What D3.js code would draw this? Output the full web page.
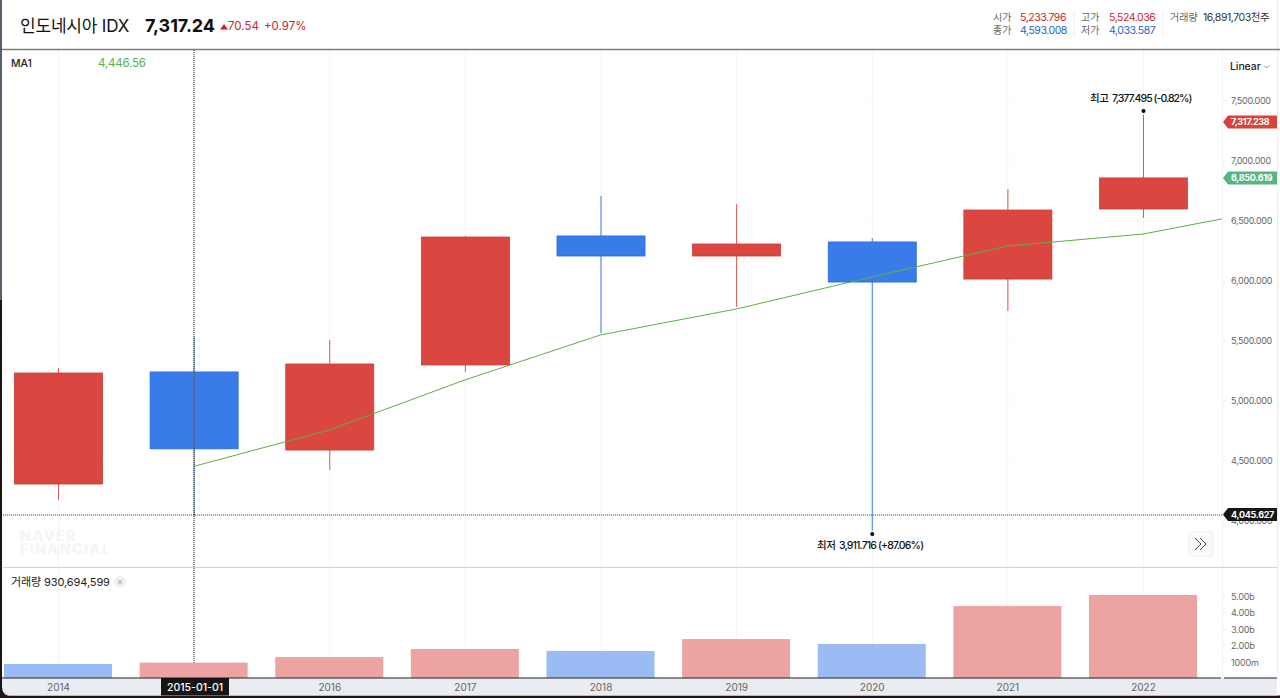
<!DOCTYPE html>
<html>
<head>
<meta charset="utf-8">
<script src="https://cdn.jsdelivr.net/npm/d3@7"></script>
<style>
html,body{margin:0;padding:0;background:#1c1512;overflow:hidden}
text{font-family:Inter,"Noto Sans CJK KR",sans-serif}
</style>
</head>
<body>
<svg id="chart" width="1280" height="698"></svg>
<script>
var years = [2014,2015,2016,2017,2018,2019,2020,2021,2022];
var opens = [4300,5233.796,4583,5292,6367,6200,6317,6008,6592];
var closes = [5225,4593.008,5300,6358,6200,6300,5983,6583,6850.619];
var highs = [5267,5524.036,5500,6367,6700,6633,6350,6758,7377.495];
var lows = [4167,4033.587,4417,5233,5558,5775,3911.716,5742,6517];
var isUp = [true,false,true,true,false,true,false,true,true];
var volumes = [0.85,0.930694599,1.27,1.76,1.64,2.36,2.06,4.36,5.03];
var volumeUp = [false,true,true,true,false,true,false,true,true];
var maYears = [2015,2016,2017,2018,2019,2020,2021,2022,2023];
var maValues = [4446.56,4750,5167,5542,5758,6025,6283,6383,6600];
var priceTicks = [4000,4500,5000,5500,6000,6500,7000,7500];
var volumeTicks = [1,2,3,4,5];

var RED = "#db4740", BLUE = "#3a7bea", GREEN = "#5bb046";
var TICKFONT = "Lato,Inter,sans-serif";

var svg = d3.select("#chart");

var x = d3.scaleLinear().domain([2014,2022]).range([58,1143]);
var y = d3.scaleLinear().domain([3911.716,7500]).range([530.6,100]);
var yVol = d3.scaleLinear().domain([0,5]).range([678,595.5]);

// window edge and white panel
svg.append("rect").attr("x",0).attr("y",0).attr("width",2).attr("height",300).attr("fill","#56616c");
svg.append("rect").attr("x",2).attr("y",0).attr("width",1278).attr("height",695.5).attr("fill","#fff");
svg.append("line").attr("x1",1277.5).attr("x2",1277.5).attr("y1",0).attr("y2",678).attr("stroke","#ececf0");

// grid
svg.append("g").selectAll("line").data(years).join("line")
  .attr("x1",function(d){return x(d)+0.5}).attr("x2",function(d){return x(d)+0.5})
  .attr("y1",50).attr("y2",678).attr("stroke","#f3f4f6");
svg.append("g").selectAll("line").data(priceTicks.slice(1)).join("line")
  .attr("x1",3).attr("x2",1222).attr("y1",function(d){return y(d)}).attr("y2",function(d){return y(d)}).attr("stroke","#fbfbfc");
svg.append("line").attr("x1",1222.5).attr("x2",1222.5).attr("y1",50).attr("y2",678).attr("stroke","#f0f1f3");

// header
svg.append("text").attr("x",20).attr("y",31.5).attr("font-size",17).attr("letter-spacing",-0.2).attr("fill","#111").text("인도네시아 IDX");
svg.append("text").attr("x",145).attr("y",31.5).attr("font-size",18).attr("font-weight",700).attr("letter-spacing",-0.1).attr("fill","#111").text("7,317.24");
svg.append("path").attr("d","M220 29.5L224 24L228 29.5Z").attr("fill","#c9252d");
svg.append("text").attr("x",228).attr("y",30).attr("font-size",11.5).attr("fill","#c9252d").text("70.54");
svg.append("text").attr("x",264).attr("y",30).attr("font-size",11.5).attr("fill","#c9252d").text("+0.97%");

var hdrLabels = [["시가",993,21],["종가",993,34],["고가",1081,21],["저가",1081,34],["거래량",1170,21]];
hdrLabels.forEach(function(d){
  svg.append("text").attr("x",d[1]).attr("y",d[2]).attr("font-size",10).attr("fill","#666").text(d[0]);
});
var hdrValues = [["5,233.796",1020,21,"#c9252d"],["4,593.008",1020,34,"#1a66c9"],["5,524.036",1109,21,"#c9252d"],["4,033.587",1109,34,"#1a66c9"],["16,891,703천주",1203,21,"#333"]];
hdrValues.forEach(function(d){
  svg.append("text").attr("x",d[1]).attr("y",d[2]).attr("font-size",10.5).attr("letter-spacing",-0.45).attr("fill",d[3]).text(d[0]);
});
[1074,1163].forEach(function(d){
  svg.append("line").attr("x1",d).attr("x2",d).attr("y1",11).attr("y2",37).attr("stroke","#eee");
});
svg.append("line").attr("x1",2).attr("x2",1280).attr("y1",49.5).attr("y2",49.5).attr("stroke","#7f7f7f").attr("stroke-width",1.5);

// legend
svg.append("text").attr("x",11).attr("y",67).attr("font-size",10.5).attr("font-weight",500).attr("fill","#222").text("MA1");
svg.append("text").attr("x",98).attr("y",67).attr("font-size",11.5).attr("letter-spacing",-0.2).attr("fill",GREEN).text("4,446.56");
svg.append("text").attr("x",1230).attr("y",70).attr("font-size",10.5).attr("font-weight",500).attr("letter-spacing",-0.1).attr("fill","#222").text("Linear");
svg.append("path").attr("d","M1264 65.5L1266.5 68L1269 65.5").attr("fill","none").attr("stroke","#888");

// watermark
svg.append("text").attr("x",20).attr("y",541).attr("font-size",14.5).attr("font-weight",800).attr("letter-spacing",1.2).attr("fill","#f4f5f7").text("NAVER");
svg.append("text").attr("x",20).attr("y",554).attr("font-size",14.5).attr("font-weight",800).attr("letter-spacing",1.2).attr("fill","#f4f5f7").text("FINANCIAL");

// candles
var idx = d3.range(years.length);
svg.append("g").selectAll("line").data(idx).join("line")
  .attr("x1",function(i){return x(years[i])+0.5}).attr("x2",function(i){return x(years[i])+0.5})
  .attr("y1",function(i){return y(highs[i])}).attr("y2",function(i){return y(lows[i])})
  .attr("stroke",function(i){return isUp[i]?"#dc5550":"#3a7bea"}).attr("stroke-width",1);
svg.append("g").selectAll("rect").data(idx).join("rect")
  .attr("x",function(i){return x(years[i])-43.5}).attr("width",88)
  .attr("y",function(i){return y(Math.max(opens[i],closes[i]))})
  .attr("height",function(i){return Math.abs(y(opens[i])-y(closes[i]))})
  .attr("fill",function(i){return isUp[i]?RED:BLUE})
  .attr("stroke",function(i){return isUp[i]?"#c93a35":"#1f6ae6"}).attr("stroke-width",0.8);

// moving average
svg.append("clipPath").attr("id","plot").append("rect").attr("x",0).attr("y",50).attr("width",1222).attr("height",517);
var line = d3.line().x(function(d){return x(d[0])}).y(function(d){return y(d[1])});
svg.append("path").datum(d3.zip(maYears,maValues)).attr("d",line).attr("clip-path","url(#plot)")
  .attr("fill","none").attr("stroke",GREEN).attr("stroke-width",1);

// high / low notes
function note(label,value,xLabel,xValue,yText,spacing){
  svg.append("text").attr("x",xLabel).attr("y",yText).attr("font-size",10.5).attr("font-weight",500).attr("letter-spacing",-0.5).attr("fill","#111").text(label);
  svg.append("text").attr("x",xValue).attr("y",yText).attr("font-size",10.5).attr("font-weight",500).attr("letter-spacing",spacing).attr("fill","#111").text(value);
}
svg.append("circle").attr("cx",x(2022)+0.5).attr("cy",111).attr("r",2).attr("fill","#000");
note("최고","7,377.495 (-0.82%)",1090,1112,102,-0.95);
svg.append("circle").attr("cx",x(2020)+0.5).attr("cy",534).attr("r",2).attr("fill","#000");
note("최저","3,911.716 (+87.06%)",817,839,549,-0.85);

// crosshair
svg.append("line").attr("x1",3).attr("x2",1222).attr("y1",515).attr("y2",515).attr("stroke","#444").attr("stroke-width",1.2).attr("stroke-dasharray","1 1");
svg.append("line").attr("x1",194).attr("x2",194).attr("y1",50).attr("y2",678).attr("stroke","#444").attr("stroke-width",1.2).attr("stroke-dasharray","1 1");

// price axis
var priceAxis = d3.axisRight(y).tickValues(priceTicks).tickSize(4).tickPadding(5).tickFormat(d3.format(",.3f"));
var gP = svg.append("g").attr("transform","translate(1222,0)").call(priceAxis);
gP.select(".domain").remove();
gP.selectAll("line").attr("stroke","#f0f1f3");
gP.selectAll("text").attr("y",1).attr("font-size",9).attr("letter-spacing",-0.3).attr("fill","#666").attr("font-family",TICKFONT);

function tag(v,bg){
  var py=y(v);
  svg.append("path").attr("d","M1223 "+py+"L1228 "+(py-6.5)+"H1277V"+(py+6.5)+"H1228Z").attr("fill",bg);
  svg.append("text").attr("x",1231).attr("y",py+3).attr("font-size",9).attr("letter-spacing",-0.3).attr("font-weight",700).attr("font-family",TICKFONT).attr("fill","#fff").text(d3.format(",.3f")(v));
}
tag(7317.238,"#d9433e");
tag(6850.619,"#57b583");
tag(4045.627,"#161616");

// more button
svg.append("rect").attr("x",1189).attr("y",532).attr("width",24).attr("height",24).attr("rx",2).attr("fill","#fafafb").attr("stroke","#eee");
svg.append("path").attr("d","M1195 538L1201 544L1195 550M1200 538L1206 544L1200 550").attr("fill","none").attr("stroke","#444");

// volume panel
svg.append("line").attr("x1",3).attr("x2",1277).attr("y1",567.5).attr("y2",567.5).attr("stroke","#cfd3d9");
svg.append("text").attr("x",11).attr("y",586).attr("font-size",11).attr("letter-spacing",-0.1).attr("fill","#222").text("거래량 930,694,599");
svg.append("circle").attr("cx",120).attr("cy",582).attr("r",6).attr("fill","#f0f0f0");
svg.append("path").attr("d","M118 580L122 584M122 580L118 584").attr("stroke","#aaa");

svg.append("g").selectAll("rect").data(idx).join("rect")
  .attr("x",function(i){return x(years[i])-54}).attr("width",108)
  .attr("y",function(i){return yVol(volumes[i])})
  .attr("height",function(i){return yVol(0)-yVol(volumes[i])})
  .attr("fill",function(i){return volumeUp[i]?"#eca3a1":"#9bbbf4"});

var volAxis = d3.axisRight(yVol).tickValues(volumeTicks).tickSize(4).tickPadding(5)
  .tickFormat(function(d){return d==1?"1000m":d3.format(".2f")(d)+"b"});
var gV = svg.append("g").attr("transform","translate(1222,0)").call(volAxis);
gV.select(".domain").remove();
gV.selectAll("line").attr("stroke","#f0f1f3");
gV.selectAll("text").attr("y",1).attr("font-size",9).attr("letter-spacing",-0.2).attr("fill","#666").attr("font-family",TICKFONT);

// time axis
svg.append("path").attr("d","M2 678H1277V695.5H10Q2 695.5 2 687Z").attr("fill","#e9ecf0");
svg.append("path").attr("d","M1 683V697H12Q2 695.5 2 687V683Z").attr("fill","#1c1512");
svg.append("line").attr("x1",2).attr("x2",1221).attr("y1",678).attr("y2",678).attr("stroke","#222");
svg.append("line").attr("x1",1224).attr("x2",1277).attr("y1",678).attr("y2",678).attr("stroke","#222");
svg.append("g").selectAll("text").data(years.filter(function(d){return d!=2015})).join("text")
  .attr("x",function(d){return x(d)+0.5}).attr("y",691).attr("text-anchor","middle").attr("font-size",10).attr("fill","#666").text(function(d){return d});
svg.append("rect").attr("x",161).attr("y",678).attr("width",68).attr("height",17.5).attr("fill","#161616");
svg.append("text").attr("x",195).attr("y",691).attr("text-anchor","middle").attr("font-size",10.5).attr("font-weight",500).attr("fill","#fff").text("2015-01-01");
</script>
</body>
</html>
